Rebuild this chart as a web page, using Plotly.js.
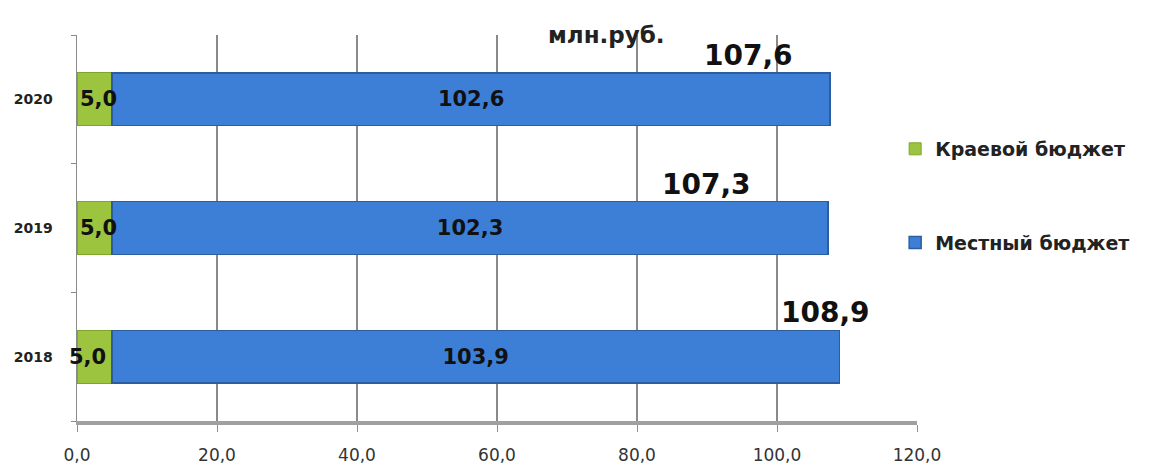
<!DOCTYPE html>
<html><head><meta charset="utf-8">
<script src="https://cdn.plot.ly/plotly-3.0.1.min.js"></script>
<style>html,body{margin:0;padding:0;background:#fff}#chart{width:1154px;height:464px}</style>
</head><body><div id="chart"></div>
<script>
const years = ['2018', '2019', '2020'];
const regionalBudget = [5.0, 5.0, 5.0];
const localBudget = [103.9, 102.3, 102.6];
const totals = [108.9, 107.3, 107.6];
const seriesNames = ['Краевой бюджет', 'Местный бюджет'];
const xTicks = [0, 20, 40, 60, 80, 100, 120];
const titleText = 'млн.руб.';
const totalLabelShift = [33, -75, -35];
const regionalLabelShift = [-10, 1, 1];

const boldFont = 'DejaVu Sans, Verdana, sans-serif';
const fmt = v => v.toFixed(1).replace('.', ',');
const traces = [
  {type:'bar', orientation:'h', y: years, x: regionalBudget, name: seriesNames[0],
   marker:{color:'#9dc43f', line:{color:'#7fa52c', width:1}}, textposition:'none', legendgroup:'a'},
  {type:'bar', orientation:'h', y: years, x: localBudget, name: seriesNames[1],
   marker:{color:'#3d7fd6', line:{color:'#2c5e9e', width:1.5}},
   texttemplate:'<b>%{x:.1f}</b>', textposition:'inside', insidetextanchor:'middle',
   textfont:{size:21, color:'#111', family:boldFont}, legendgroup:'b', constraintext:'none'}
];
const annotations = [];
years.forEach((y,i)=>{
  annotations.push({x: 0, y: i, xref:'x', yref:'y', text:'<b>'+fmt(regionalBudget[i])+'</b>',
    showarrow:false, xanchor:'left', yanchor:'middle', xshift: regionalLabelShift[i],
    font:{size:21, color:'#111', family:boldFont}});
  annotations.push({x: totals[i], y: i, xref:'x', yref:'y', text:'<b>'+fmt(totals[i])+'</b>',
    showarrow:false, xanchor:'right', yanchor:'middle', yshift:44, xshift: totalLabelShift[i],
    font:{size:28, color:'#111', family:boldFont}});
});
annotations.push({text:'<b>'+titleText+'</b>', xref:'paper', yref:'paper', x:0.63, y:1, yshift:0, yanchor:'middle',
  showarrow:false, font:{size:23, color:'#222', family:boldFont}});
const layout = {
  width:1154, height:464, margin:{l:77, r:237, t:35, b:43},
  barmode:'stack', bargap:0.59, separators:', ',
  paper_bgcolor:'#fff', plot_bgcolor:'#fff', showlegend:true,
  xaxis:{range:[0,120], tickvals:xTicks, tickformat:'.1f', showgrid:true, gridcolor:'#8a8a8a', gridwidth:1.5,
    zeroline:false, showline:true, linecolor:'#a0a0a0', linewidth:4, ticks:'outside', ticklen:7, tickcolor:'#909090',
    ticklabelstandoff:9,
    tickfont:{size:17, color:'#333', family:'DejaVu Sans, sans-serif'}, fixedrange:true},
  yaxis:{type:'category', categoryorder:'array', categoryarray:years, range:[-0.5, 2.5], autorange:false,
    showgrid:false, zeroline:false, showline:true, linecolor:'#8a8a8a', linewidth:1.5,
    ticks:'outside', tickson:'boundaries', ticklen:5, tickcolor:'#8a8a8a', ticklabelstandoff:20,
    tickfont:{size:14, color:'#222', family:'DejaVu Sans, sans-serif', weight:'bold'}},
  legend:{x:0.974, xanchor:'left', y:0.583, yanchor:'middle', traceorder:'grouped', tracegroupgap:66,
    font:{size:19, color:'#222', family:'DejaVu Sans, sans-serif', weight:'bold'}, itemwidth:30, bgcolor:'rgba(0,0,0,0)'},
  annotations: annotations
};
Plotly.newPlot('chart', traces, layout, {displayModeBar:false, staticPlot:true});
</script></body></html>
